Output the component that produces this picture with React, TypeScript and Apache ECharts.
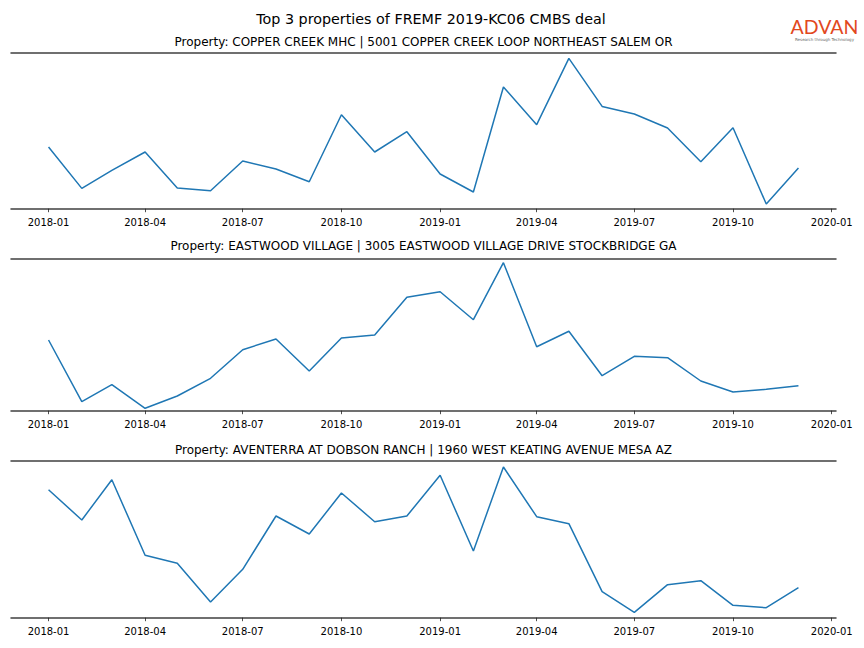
import React, { useEffect, useRef } from "react";
import * as echarts from "echarts";

const MONTHS = [
  "2018-01", "2018-02", "2018-03", "2018-04", "2018-05", "2018-06",
  "2018-07", "2018-08", "2018-09", "2018-10", "2018-11", "2018-12",
  "2019-01", "2019-02", "2019-03", "2019-04", "2019-05", "2019-06",
  "2019-07", "2019-08", "2019-09", "2019-10", "2019-11", "2019-12",
];
const TICKS = [
  "2018-01", "2018-04", "2018-07", "2018-10", "2019-01",
  "2019-04", "2019-07", "2019-10", "2020-01",
];
const MAIN_TITLE = "Top 3 properties of FREMF 2019-KC06 CMBS deal";
const PROPERTY_TITLES = [
  "Property: COPPER CREEK MHC | 5001 COPPER CREEK LOOP NORTHEAST SALEM OR",
  "Property: EASTWOOD VILLAGE | 3005 EASTWOOD VILLAGE DRIVE STOCKBRIDGE GA",
  "Property: AVENTERRA AT DOBSON RANCH | 1960 WEST KEATING AVENUE MESA AZ",
];
// relative activity (no y scale shown in the reference)
const COPPER_CREEK = [
  61.7, 20.3, 38.3, 56.7, 20.7, 18.0, 47.7, 39.7, 27.0, 94.0, 56.7, 77.0,
  34.7, 16.7, 121.7, 84.0, 150.3, 102.3, 94.7, 80.7, 47.0, 81.0, 4.7, 40.7,
];
const EASTWOOD = [
  70.7, 9.0, 26.0, 2.4, 14.7, 32.4, 61.0, 71.7, 39.7, 72.7, 75.7, 113.4,
  119.0, 91.0, 148.0, 64.0, 79.4, 35.0, 54.4, 53.0, 29.7, 18.7, 21.4, 25.0,
];
const AVENTERRA = [
  128.0, 97.7, 138.0, 62.4, 54.4, 15.7, 48.4, 101.7, 83.7, 124.7, 96.0, 101.7,
  142.4, 66.7, 150.7, 101.0, 94.0, 26.0, 5.4, 33.0, 37.0, 12.4, 10.0, 30.0,
];
const SERIES = [COPPER_CREEK, EASTWOOD, AVENTERRA];
const Y_MAX = [155.7, 151.7, 156.7];

const ts = (m: string) => {
  const [y, mo] = m.split("-").map(Number);
  return Date.UTC(y, mo - 1, 1);
};
const DAY = 86400000;
const X_MIN = ts(MONTHS[0]) - 35 * DAY;
const X_MAX = ts(MONTHS[MONTHS.length - 1]) + 35 * DAY;
const fmt = (v: number) => {
  const d = new Date(v);
  return d.getUTCFullYear() + "-" + String(d.getUTCMonth() + 1).padStart(2, "0");
};

const FONT = "DejaVu Sans";
const GRIDS = [
  { top: 53, height: 155.7 },
  { top: 259, height: 151.7 },
  { top: 461, height: 156.7 },
];
const SUB_TITLE_Y = [42, 246, 450];

export default function App() {
  const ref = useRef<HTMLDivElement>(null);
  useEffect(() => {
    if (!ref.current) return;
    const chart = echarts.init(ref.current, null, { renderer: "svg" });
    const tickVals = TICKS.map(ts);
    const spine = { show: true, lineStyle: { color: "#404040", width: 1.5 } };
    const xAxes: any[] = [];
    const yAxes: any[] = [];
    const series: any[] = [];
    GRIDS.forEach((_, i) => {
      xAxes.push({
        type: "value",
        gridIndex: i,
        min: X_MIN,
        max: X_MAX,
        position: "bottom",
        axisLine: spine,
        axisTick: {
          show: true,
          customValues: tickVals,
          length: 3.5,
          lineStyle: { color: "#222", width: 0.8 },
        },
        axisLabel: {
          show: true,
          customValues: tickVals,
          formatter: (v: number) => fmt(v),
          fontFamily: FONT,
          fontSize: 10,
          color: "#000",
          margin: 9,
          hideOverlap: false,
        },
        splitLine: { show: false },
      });
      xAxes.push({
        type: "value",
        gridIndex: i,
        min: X_MIN,
        max: X_MAX,
        position: "top",
        axisLine: spine,
        axisTick: { show: false },
        axisLabel: { show: false },
        splitLine: { show: false },
      });
      yAxes.push({
        type: "value",
        gridIndex: i,
        min: 0,
        max: Y_MAX[i],
        show: false,
        splitLine: { show: false },
      });
      series.push({
        type: "line",
        xAxisIndex: i * 2,
        yAxisIndex: i,
        data: MONTHS.map((m, k) => [ts(m), SERIES[i][k]]),
        showSymbol: false,
        symbol: "none",
        lineStyle: { color: "#1f77b4", width: 1.5 },
        itemStyle: { color: "#1f77b4" },
      });
    });

    const graphics: any[] = [
      {
        type: "text",
        style: {
          text: MAIN_TITLE,
          x: 431,
          y: 19,
          align: "center",
          verticalAlign: "middle",
          fontFamily: FONT,
          fontSize: 14.3,
          fill: "#000",
        },
      },
      ...PROPERTY_TITLES.map((t, i) => ({
        type: "text",
        style: {
          text: t,
          x: 423.5,
          y: SUB_TITLE_Y[i],
          align: "center",
          verticalAlign: "middle",
          fontFamily: FONT,
          fontSize: 12,
          fill: "#000",
        },
      })),
      {
        type: "text",
        style: {
          text: "ADVAN",
          x: 824.5,
          y: 26.5,
          align: "center",
          verticalAlign: "middle",
          fontFamily: "Lato",
          fontSize: 19.5,
          fill: "#E2481D",
        },
      },
      {
        type: "text",
        style: {
          text: "Research through Technology",
          x: 824.5,
          y: 39,
          align: "center",
          verticalAlign: "middle",
          fontFamily: FONT,
          fontSize: 4,
          fill: "#666",
        },
      },
    ];

    chart.setOption({
      animation: false,
      backgroundColor: "#fff",
      grid: GRIDS.map((g) => ({ left: 11, right: 28, top: g.top, height: g.height })),
      xAxis: xAxes,
      yAxis: yAxes,
      series,
      graphic: graphics,
    });
    return () => chart.dispose();
  }, []);
  return (
    <div
      ref={ref}
      style={{ position: "fixed", left: 0, top: 0, width: 864, height: 648 }}
    />
  );
}
